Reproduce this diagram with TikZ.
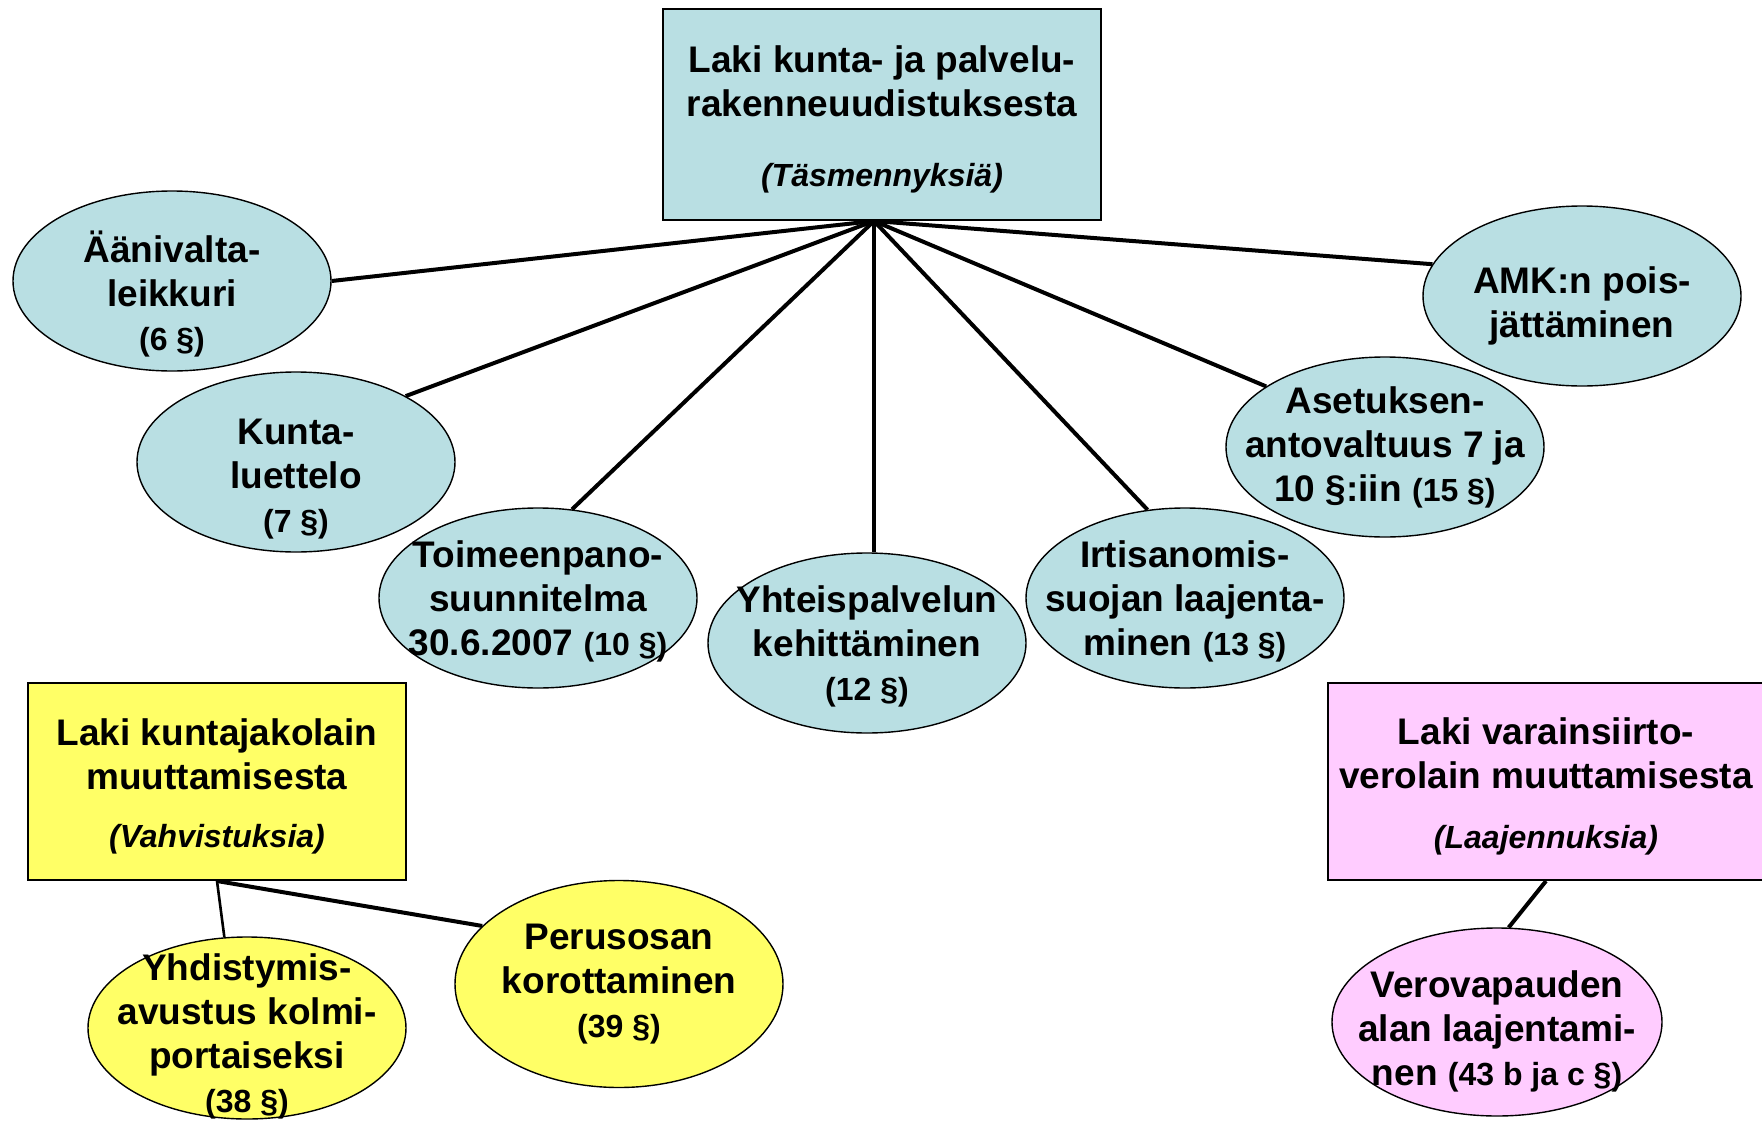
\documentclass[tikz,border=0pt]{standalone}
\usepackage{fontspec}
\setmainfont{Liberation Sans}
\usepackage{xcolor}
\usepackage{tikz}
\usetikzlibrary{shapes.geometric}

\definecolor{sinivihrea}{RGB}{185,223,227}
\definecolor{keltainen}{RGB}{255,255,102}
\definecolor{vaaleanpun}{RGB}{255,204,255}

\newcommand{\pyk}[1]{{\fontsize{16}{19}\selectfont(#1~§)}}
\newcommand{\tark}[1]{{\fontsize{16}{19}\selectfont\itshape(#1)}}
% tyhja tila rivin ylapuolelle, siirtaa tekstia alas
\newcommand{\alas}[1]{\rule{0pt}{#1}}

\begin{document}
\begin{tikzpicture}[x=0.5pt, y=-0.5pt]
  \tikzstyle{every node}=[font=\bfseries\fontsize{18.5}{22}\selectfont, align=center]
  \tikzstyle{lakibox}=[draw, rectangle, line width=1pt, inner sep=0pt]
  \tikzstyle{aihe}=[draw, ellipse, line width=0.7pt, inner sep=-30pt, minimum width=159pt, minimum height=90pt, fill=sinivihrea]
  \tikzstyle{viiva}=[line width=2pt]
  \useasboundingbox (0,0) rectangle (1762,1124);

  % paalaki ja sen kohdat
  \node[lakibox, fill=sinivihrea, minimum width=219pt, minimum height=105.5pt] (T) at (882,114.5)
    {\alas{18pt}Laki kunta- ja palvelu-\\rakenneuudistuksesta\\[13pt]\tark{Täsmennyksiä}};
  \coordinate (hub) at ([xshift=-4pt]T.south);
  \node[aihe] (aani) at (172,281) {\alas{29pt}Äänivalta-\\leikkuri\\\pyk{6}};
  \node[aihe] (kunta) at (296,462) {\alas{30pt}Kunta-\\luettelo\\\pyk{7}};
  \node[aihe] (toim) at (538,598) {\alas{17pt}Toimeenpano-\\suunnitelma\\30.6.2007 \pyk{10}};
  \node[aihe] (yht) at (867,643) {\alas{17pt}Yhteispalvelun\\kehittäminen\\\pyk{12}};
  \node[aihe] (irt) at (1185,598) {\alas{17pt}Irtisanomis-\\suojan laajenta-\\minen \pyk{13}};
  \node[aihe] (aset) at (1385,447) {Asetuksen-\\antovaltuus 7 ja\\10 §:iin \pyk{15}};
  \node[aihe] (amk) at (1582,296) {\alas{23.5pt}AMK:n pois-\\jättäminen};

  \draw[viiva] (hub) -- (aani.east);
  \draw[viiva] (hub) -- (kunta.31);
  \draw[viiva] (hub) -- (toim.69);
  \draw[viiva] (hub) -- (hub |- yht.north);
  \draw[viiva] (hub) -- (irt.113);
  \draw[viiva] (hub) -- (aset.153);
  \draw[viiva] (hub) -- (amk.168);

  % kuntajakolaki
  \node[lakibox, fill=keltainen, minimum width=189pt, minimum height=98.5pt] (K) at (217,781.5)
    {\alas{18pt}Laki kuntajakolain\\muuttamisesta\\[7pt]\tark{Vahvistuksia}};
  \node[aihe, fill=keltainen, minimum height=91pt] (yhd) at (247,1028)
    {\alas{21.5pt}Yhdistymis-\\avustus kolmi-\\portaiseksi\\\pyk{38}};
  \node[aihe, fill=keltainen, minimum width=164pt, minimum height=103.5pt] (peru) at (619,984)
    {Perusosan\\korottaminen\\\pyk{39}};
  \draw[line width=1.3pt] (K.south) -- (yhd.104);
  \draw[viiva] (K.south) -- (peru.157);

  % varainsiirtoverolaki
  \node[lakibox, fill=vaaleanpun, minimum width=218pt, minimum height=98.5pt] (V) at (1546,781.5)
    {\alas{18pt}Laki varainsiirto-\\verolain muuttamisesta\\[8pt]\tark{Laajennuksia}};
  \node[aihe, fill=vaaleanpun, minimum width=165pt, minimum height=94pt] (vero) at (1497,1022)
    {\alas{22.5pt}Verovapauden\\alan laajentami-\\nen \pyk{43 b ja c}};
  \draw[viiva] (V.south) -- (vero.83);
\end{tikzpicture}
\end{document}
